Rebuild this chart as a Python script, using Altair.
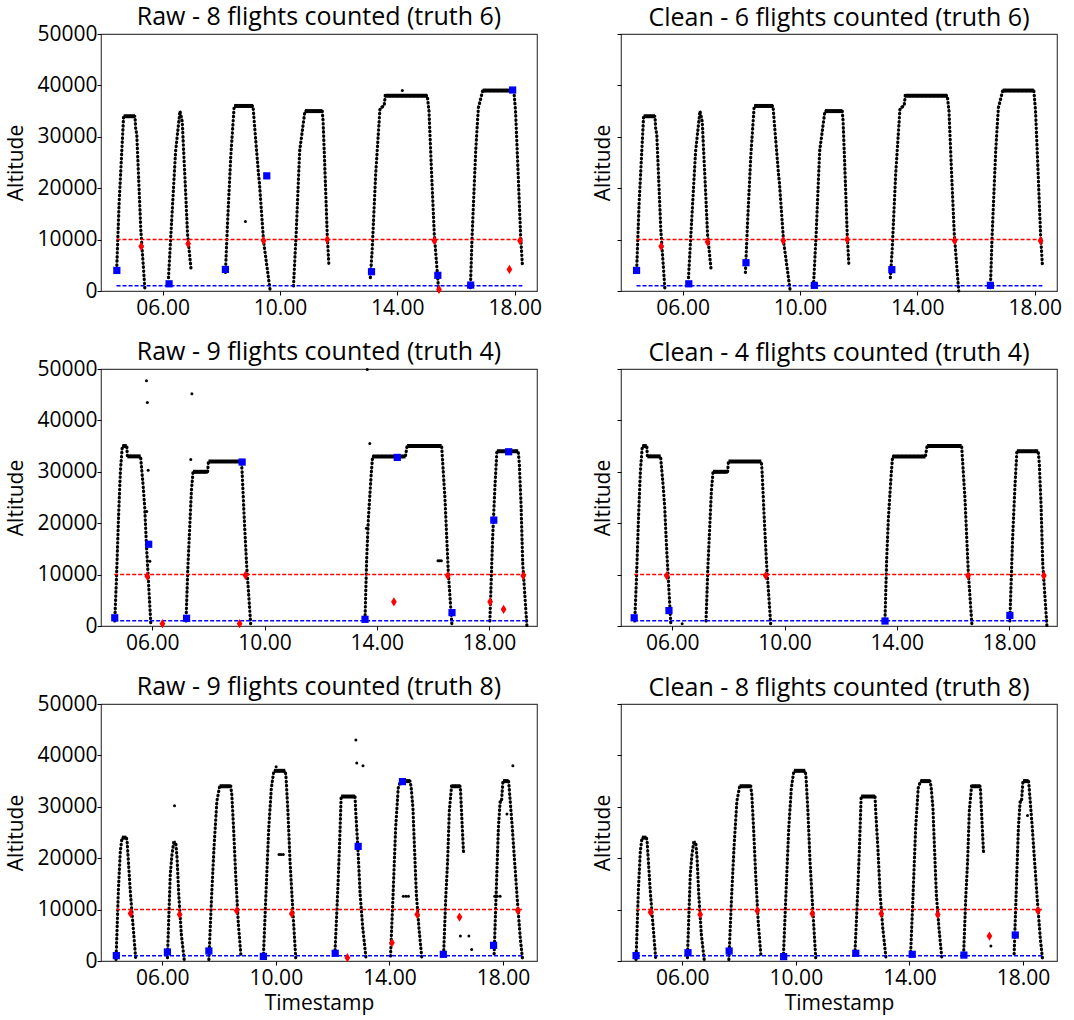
import altair as alt
import pandas as pd

FONT = "Open Sans"

# Reference levels (feet) drawn as dashed guide lines
CRUISE_LEVEL = 10000
GROUND_LEVEL = 1000

HOUR_TICKS = [6, 10, 14, 18]
ALT_TICKS = [0, 10000, 20000, 30000, 40000, 50000]

# ---------------- Day 1 ----------------
# each flight: list of (hour, altitude) keypoints along the track
DAY1_FLIGHTS = [
    [(4.44, 5000), (4.52, 17500), (4.67, 34000), (5.06, 34000), (5.08, 31700),
     (5.12, 30400), (5.26, 11600), (5.40, 0)],
    [(6.20, 2600), (6.32, 14900), (6.44, 27000), (6.59, 35000), (6.67, 32900),
     (6.79, 18600), (6.85, 11000), (6.97, 4200)],
    [(8.14, 3600), (8.22, 14200), (8.32, 25900), (8.44, 36000), (9.08, 36000),
     (9.14, 31700), (9.27, 22600), (9.30, 21000), (9.44, 9700), (9.66, 300)],
    [(10.46, 1000), (10.55, 11000), (10.67, 27200), (10.85, 35000), (11.44, 35000),
     (11.47, 33000), (11.55, 20700), (11.61, 11000), (11.67, 4800)],
    [(13.08, 2600), (13.14, 7800), (13.26, 22600), (13.41, 35600), (13.55, 36000),
     (13.59, 38000), (15.02, 38000), (15.08, 34900), (15.17, 22600), (15.26, 11000),
     (15.41, 0)],
    [(16.49, 650), (16.55, 11000), (16.67, 27200), (16.76, 35600), (16.91, 39000),
     (17.97, 39000), (18.03, 34900), (18.11, 23900), (18.20, 11000), (18.26, 5200)],
]
DAY1_RAW_STRAY = [(8.82, 13500), (14.17, 39000)]
DAY1_CLEAN_STRAY = []
DAY1_RAW_BLUE = [(4.44, 4000), (6.22, 1400), (8.14, 4200), (9.55, 22400), (13.12, 3750),
                 (15.38, 3050), (16.50, 1150), (17.93, 39100)]
DAY1_RAW_RED = [(5.27, 8700), (6.87, 9200), (9.44, 9800), (11.61, 10000), (15.26, 9800),
                (15.42, 300), (17.82, 4200), (18.18, 9800)]
DAY1_CLEAN_BLUE = [(4.43, 4000), (6.21, 1400), (8.16, 5500), (10.49, 1100), (13.13, 4150),
                   (16.49, 1100)]
DAY1_CLEAN_RED = [(5.27, 8700), (6.85, 9550), (9.43, 9800), (11.61, 10000), (15.27, 9800),
                  (18.20, 9800)]
DAY1_SPAN = (4.43, 18.26)
DAY1_XDOMAIN = (3.90, 18.76)

# ---------------- Day 2 ----------------
DAY2_FLIGHTS = [
    [(4.66, 1000), (4.72, 9000), (4.80, 22000), (4.86, 30000), (4.93, 35000),
     (5.09, 35000), (5.11, 33000), (5.58, 33000), (5.67, 27400), (5.73, 22900),
     (5.79, 15800), (5.95, 0)],
    [(7.20, 1000), (7.27, 11900), (7.39, 26100), (7.45, 30000), (7.97, 30000),
     (8.00, 32000), (9.17, 32000), (9.20, 30000), (9.27, 21600), (9.36, 11900),
     (9.51, 0)],
    [(13.58, 1300), (13.64, 13200), (13.70, 21000), (13.79, 28700), (13.85, 33000),
     (15.02, 33000), (15.08, 35000), (16.31, 35000), (16.34, 32600), (16.43, 24800),
     (16.55, 10300), (16.68, 0)],
    [(18.03, 1000), (18.13, 17400), (18.21, 27100), (18.28, 34000), (19.04, 34000),
     (19.08, 31600), (19.14, 23900), (19.20, 12300), (19.35, 0)],
]
DAY2_RAW_STRAY = [(5.79, 47700), (5.82, 43500), (5.85, 30300), (5.80, 22300), (5.91, 12600),
                  (7.41, 45200), (7.37, 32400), (13.63, 19000), (13.75, 35500),
                  (13.66, 49900), (16.18, 12700), (16.24, 12700), (16.30, 12700)]
DAY2_CLEAN_STRAY = [(6.35, 450)]
DAY2_RAW_BLUE = [(4.66, 1600), (5.87, 15900), (7.22, 1500), (9.20, 31900), (13.58, 1300),
                 (14.73, 32800), (16.68, 2600), (18.17, 20600), (18.70, 33900)]
DAY2_RAW_RED = [(5.82, 9700), (6.36, 450), (9.11, 450), (9.32, 9850), (14.61, 4700),
                (16.53, 9800), (18.04, 4700), (18.52, 3250), (19.22, 9800)]
DAY2_CLEAN_BLUE = [(4.64, 1600), (5.88, 3000), (13.58, 970), (18.03, 2060)]
DAY2_CLEAN_RED = [(5.80, 9800), (9.33, 9800), (16.54, 9800), (19.24, 9800)]
DAY2_SPAN = (4.64, 19.35)
DAY2_XDOMAIN = (4.17, 19.71)

# ---------------- Day 3 ----------------
DAY3_FLIGHTS = [
    [(4.37, 300), (4.455, 14200), (4.52, 21300), (4.58, 24000), (4.735, 24000),
     (4.76, 23300), (4.88, 12900), (5.06, 650)],
    [(6.18, 650), (6.28, 16800), (6.34, 20700), (6.40, 23000), (6.475, 23000),
     (6.52, 20000), (6.58, 12900), (6.67, 5200), (6.77, 300)],
    [(7.64, 300), (7.74, 13000), (7.82, 22000), (7.92, 31000), (8.02, 34000),
     (8.41, 34000), (8.45, 32300), (8.51, 25900), (8.59, 16200), (8.68, 7100),
     (8.77, 1000)],
    [(9.56, 650), (9.65, 12900), (9.75, 25900), (9.84, 33600), (9.93, 37000),
     (10.33, 37000), (10.36, 35600), (10.42, 29700), (10.50, 19400), (10.60, 9700),
     (10.70, 650)],
    [(12.08, 1300), (12.18, 13600), (12.24, 22000), (12.30, 32000), (12.79, 32000),
     (12.82, 28500), (12.89, 22000), (12.97, 12900), (13.06, 6500), (13.18, 300)],
    [(14.04, 970), (14.13, 13000), (14.22, 25900), (14.31, 33600), (14.39, 35000),
     (14.73, 35000), (14.77, 33600), (14.83, 29700), (14.88, 22600), (14.95, 12900),
     (15.04, 6500), (15.14, 650)],
    [(15.91, 1300), (15.99, 12900), (16.05, 19400), (16.11, 29100), (16.19, 34000),
     (16.50, 34000), (16.53, 30400), (16.58, 24600), (16.61, 21300)],
    [(17.69, 1400), (17.78, 16200), (17.84, 25900), (17.90, 31000), (17.95, 31000),
     (18.00, 35000), (18.20, 35000), (18.33, 25900), (18.41, 19400), (18.51, 11600),
     (18.61, 4500), (18.69, 300)],
]
DAY3_RAW_STRAY = [(6.43, 30200), (10.01, 37800), (10.11, 20700), (10.18, 20700),
                  (10.26, 20700), (12.82, 43000), (12.85, 38500), (13.07, 38000),
                  (14.49, 12600), (14.58, 12600), (14.67, 12600), (16.50, 4850),
                  (16.80, 4850), (16.90, 2260), (17.71, 12600), (17.80, 12600),
                  (17.90, 12600), (18.35, 38000), (18.14, 28600)]
DAY3_CLEAN_STRAY = [(16.87, 2900), (18.16, 28300)]
DAY3_RAW_BLUE = [(4.38, 1050), (6.18, 1750), (7.64, 1950), (9.56, 900), (12.09, 1500),
                 (12.90, 22300), (14.46, 34900), (15.90, 1300), (17.67, 3050)]
DAY3_RAW_RED = [(4.88, 9250), (6.61, 9050), (8.62, 9800), (10.56, 9200), (12.52, 650),
                (14.09, 3550), (14.98, 9050), (16.47, 8550), (18.53, 9800)]
DAY3_CLEAN_BLUE = [(4.37, 1050), (6.20, 1620), (7.65, 1940), (9.57, 850), (12.11, 1500),
                   (14.10, 1300), (15.92, 1150), (17.73, 5050)]
DAY3_CLEAN_RED = [(4.88, 9500), (6.63, 9050), (8.64, 9800), (10.58, 9200), (13.01, 9200),
                  (15.00, 9050), (16.82, 4850), (18.53, 9800)]
DAY3_SPAN = (4.37, 18.69)
DAY3_XDOMAIN = (3.84, 19.20)

# tall thin diamond marker
THIN_DIAMOND = "M0,-1L0.62,0L0,1L-0.62,0Z"

PANEL_W = 436
PANEL_H = 257


def points_frame(pairs):
    return pd.DataFrame(pairs, columns=["t", "alt"]) if pairs else pd.DataFrame({"t": [], "alt": []})


def track_frames(flights):
    rows, level = [], []
    for i, flight in enumerate(flights):
        for t, a in flight:
            rows.append({"flight": i, "t": t, "alt": a})
        for (t0, a0), (t1, a1) in zip(flight, flight[1:]):
            if a0 == a1:
                level.append({"t": t0, "t2": t1, "alt": a0})
    return pd.DataFrame(rows), pd.DataFrame(level)


def panel(title, flights, stray, blue, red, span, xdomain, left, bottom):
    x_kw = dict(values=HOUR_TICKS,
                labelExpr="(datum.value < 10 ? '0' : '') + datum.value + '.00'",
                title="Timestamp" if bottom else None)
    y_kw = dict(values=ALT_TICKS, title="Altitude", labels=left, format="d",
                labelPadding=0, titlePadding=10 if left else 3)
    x = alt.X("t:Q", scale=alt.Scale(domain=list(xdomain), nice=False, zero=False),
              axis=alt.Axis(**x_kw))
    y = alt.Y("alt:Q", scale=alt.Scale(domain=[0, 50000], nice=False),
              axis=alt.Axis(**y_kw))

    track, level = track_frames(flights)
    base_track = alt.Chart(track).encode(x=x, y=y, detail="flight:N")
    dotted = base_track.mark_line(color="black", strokeWidth=3.2,
                                  strokeDash=[0.5, 3.6], strokeCap="round")
    cruise = alt.Chart(level).mark_rule(color="black", strokeWidth=4).encode(
        x=x, x2="t2:Q", y=y)

    layers = [dotted, cruise]
    if stray:
        layers.append(alt.Chart(points_frame(stray)).mark_circle(
            color="black", size=9, opacity=1).encode(x=x, y=y))

    guides = pd.DataFrame({"t": [span[0]], "t2": [span[1]]})
    layers.append(alt.Chart(guides).mark_rule(color="#ff0000", strokeWidth=1.5,
                                              strokeDash=[4, 2]).encode(
        x=x, x2="t2:Q", y=alt.datum(CRUISE_LEVEL, type="quantitative")))
    layers.append(alt.Chart(guides).mark_rule(color="#0000ff", strokeWidth=1.5,
                                              strokeDash=[4, 2]).encode(
        x=x, x2="t2:Q", y=alt.datum(GROUND_LEVEL, type="quantitative")))

    layers.append(alt.Chart(points_frame(red)).mark_point(
        shape=THIN_DIAMOND, filled=True, color="#ff0000", size=85, opacity=1).encode(x=x, y=y))
    layers.append(alt.Chart(points_frame(blue)).mark_square(
        color="#0000ff", size=52, opacity=1).encode(x=x, y=y))

    # the labelled y axis pushes its title up; pull it back level with the other column
    return alt.layer(*layers).properties(
        width=PANEL_W, height=PANEL_H,
        title=alt.TitleParams(title, fontSize=25, fontWeight="normal", font=FONT,
                              color="black", frame="group", offset=3,
                              dy=10 if left else 0))


rows = [
    alt.hconcat(
        panel("Raw - 8 flights counted (truth 6)", DAY1_FLIGHTS, DAY1_RAW_STRAY,
              DAY1_RAW_BLUE, DAY1_RAW_RED, DAY1_SPAN, DAY1_XDOMAIN, True, False),
        panel("Clean - 6 flights counted (truth 6)", DAY1_FLIGHTS, DAY1_CLEAN_STRAY,
              DAY1_CLEAN_BLUE, DAY1_CLEAN_RED, DAY1_SPAN, DAY1_XDOMAIN, False, False),
        spacing=84, bounds="flush"),
    alt.hconcat(
        panel("Raw - 9 flights counted (truth 4)", DAY2_FLIGHTS, DAY2_RAW_STRAY,
              DAY2_RAW_BLUE, DAY2_RAW_RED, DAY2_SPAN, DAY2_XDOMAIN, True, False),
        panel("Clean - 4 flights counted (truth 4)", DAY2_FLIGHTS, DAY2_CLEAN_STRAY,
              DAY2_CLEAN_BLUE, DAY2_CLEAN_RED, DAY2_SPAN, DAY2_XDOMAIN, False, False),
        spacing=84, bounds="flush"),
    alt.hconcat(
        panel("Raw - 9 flights counted (truth 8)", DAY3_FLIGHTS, DAY3_RAW_STRAY,
              DAY3_RAW_BLUE, DAY3_RAW_RED, DAY3_SPAN, DAY3_XDOMAIN, True, True),
        panel("Clean - 8 flights counted (truth 8)", DAY3_FLIGHTS, DAY3_CLEAN_STRAY,
              DAY3_CLEAN_BLUE, DAY3_CLEAN_RED, DAY3_SPAN, DAY3_XDOMAIN, False, True),
        spacing=84, bounds="flush"),
]

chart = alt.vconcat(*rows, spacing=20).properties(
    padding={"left": 5, "top": 4, "right": 5, "bottom": 3},
    background="white",
).configure_view(
    stroke="#444", strokeWidth=1.2
).configure_axis(
    grid=False, domain=False, tickColor="black", tickSize=4, tickWidth=1,
    labelFont=FONT, labelFontSize=21, labelColor="black", labelPadding=2,
    titleFont=FONT, titleFontSize=21, titleFontWeight="normal", titleColor="black",
).configure_axisX(titlePadding=4)

chart.save("out.html", embed_options={"renderer": "svg", "actions": False})
